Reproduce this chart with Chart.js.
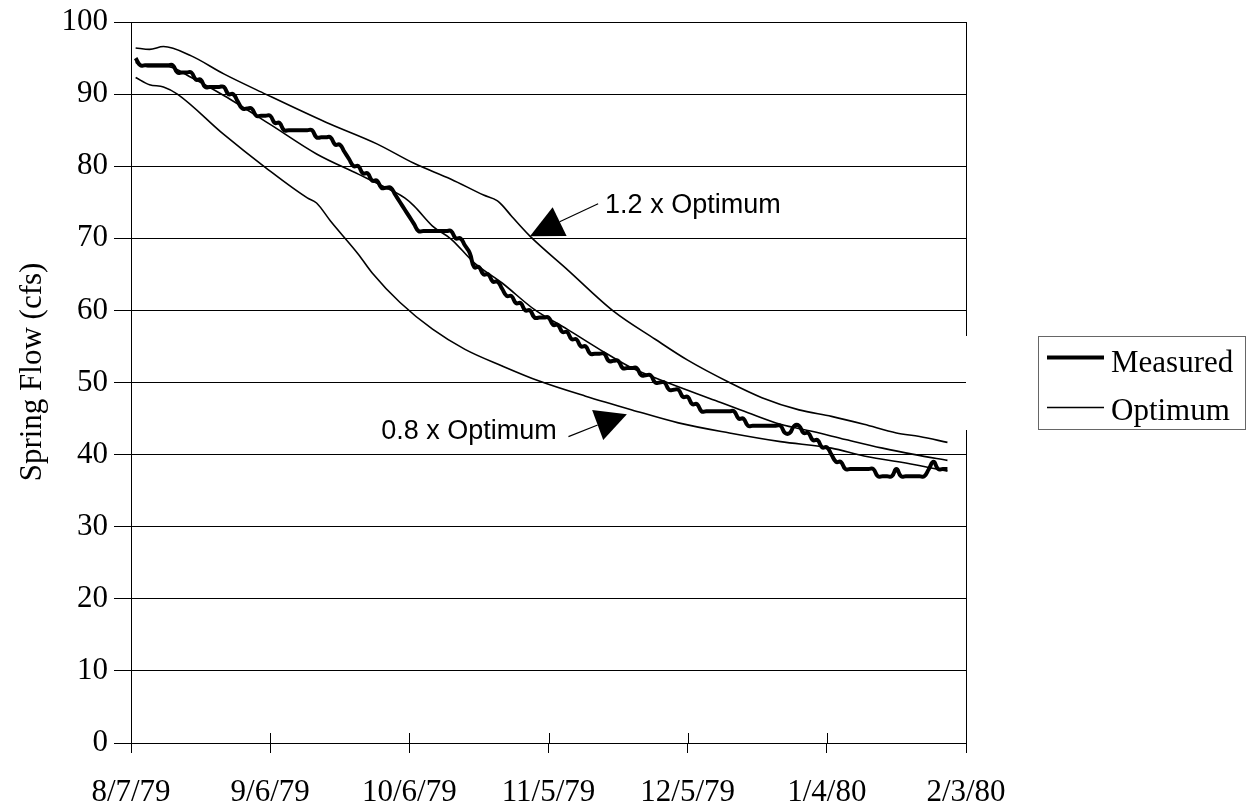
<!DOCTYPE html>
<html>
<head>
<meta charset="utf-8">
<title>Spring Flow</title>
<script src="https://cdn.jsdelivr.net/npm/chart.js@4.4.1/dist/chart.umd.min.js"></script>
<style>
  html, body { margin: 0; padding: 0; background: #fff; }
  canvas { display: block; }
</style>
</head>
<body>
<canvas id="flowChart" width="1247" height="809"></canvas>
<script>
// x axis is days since 8/7/79, ticks every 30 days
const tickLabels = ['8/7/79', '9/6/79', '10/6/79', '11/5/79', '12/5/79', '1/4/80', '2/3/80'];

// measured spring flow (cfs), one reading per day from 8/8/79 (day 1)
const measuredFlow = [
  95, 94, 94, 94, 94, 94, 94, 94, 94, 93,
  93, 93, 93, 92, 92, 91, 91, 91, 91, 91,
  90, 90, 89, 88, 88, 88, 87, 87, 87, 87,
  86, 86, 85, 85, 85, 85, 85, 85, 85, 84,
  84, 84, 84, 83, 83, 82, 81, 80, 80, 79,
  79, 78, 78, 77, 77, 77, 76, 75, 74, 73,
  72, 71, 71, 71, 71, 71, 71, 71, 71, 70,
  70, 69, 68, 66, 66, 65, 65, 64, 64, 63,
  62, 62, 61, 61, 60, 60, 59, 59, 59, 59,
  58, 58, 57, 57, 56, 56, 55, 55, 54, 54,
  54, 54, 53, 53, 53, 52, 52, 52, 52, 51,
  51, 51, 50, 50, 50, 49, 49, 49, 48, 48,
  47, 47, 46, 46, 46, 46, 46, 46, 46, 46,
  45, 45, 44, 44, 44, 44, 44, 44, 44, 44,
  43, 43, 44, 44, 43, 43, 42, 42, 41, 41,
  40, 39, 39, 38, 38, 38, 38, 38, 38, 38,
  37, 37, 37, 37, 38, 37, 37, 37, 37, 37,
  37, 38, 39, 38, 38, 38
];

// optimum operation curve
const optimumDays = [1, 4, 8, 13, 20, 30, 40, 49, 55, 59, 61, 65, 69, 74, 80, 87, 94, 101, 108, 116, 126, 133, 140, 147, 154, 162, 169, 176];
const optimumFlow = [94.4, 93.8, 93.8, 92.3, 89.8, 85.8, 81.7, 78.9, 77.0, 75.6, 74.5, 71.7, 69.9, 66.6, 63.8, 60.1, 57.4, 54.6, 52.0, 49.9, 47.5, 45.8, 44.2, 43.2, 42.1, 40.9, 40.0, 39.2];

// 1.2 x optimum
const highDays = [1, 4, 7, 13, 20, 29, 42, 53, 61, 69, 76, 79, 80, 82, 86, 94, 104, 113, 120, 129, 136, 144, 151, 158, 165, 170, 176];
const highFlow = [96.4, 96.2, 96.6, 95.3, 92.8, 90.0, 86.1, 83.1, 80.4, 78.2, 76.0, 75.2, 74.6, 73.1, 70.3, 65.7, 59.9, 56.0, 53.1, 50.0, 47.9, 46.2, 45.3, 44.2, 43.0, 42.5, 41.7];

// 0.8 x optimum
const lowDays = [1, 4, 7, 10, 20, 29, 38, 40, 43, 49, 52, 58, 65, 72, 80, 88, 98, 108, 118, 129, 140, 151, 158, 169, 176];
const lowFlow = [92.3, 91.3, 91.0, 90.0, 84.4, 79.8, 75.6, 74.9, 72.4, 67.8, 65.2, 61.1, 57.4, 54.6, 52.3, 50.2, 48.1, 46.2, 44.4, 43.0, 41.8, 40.9, 39.8, 38.6, 37.7];

const serif = "'Liberation Serif', 'Times New Roman', serif";
const sans = "'Liberation Sans', Arial, sans-serif";

function toPoints(days, flows) {
  return flows.map((v, i) => ({ x: days[i], y: v }));
}
const measuredPoints = measuredFlow.map((v, i) => ({ x: i + 1, y: v }));

// arrow callouts, in (day, cfs)
const callouts = [
  { text: '1.2 x Optimum', tip: [86.0, 70.3], base: [92.4, 72.3], tail: [100.7, 74.8], at: [102.2, 73.5], align: 'left' },
  { text: '0.8 x Optimum', tip: [106.9, 45.6], base: [100.6, 44.1], tail: [94.3, 42.5], at: [91.8, 42.1], align: 'right' }
];

const extras = {
  id: 'extras',
  afterDraw(chart) {
    const { ctx, chartArea: a, scales: { x, y } } = chart;
    ctx.save();

    // inner half of the cross ticks on the date axis, and the right frame edge
    ctx.strokeStyle = '#000';
    ctx.lineWidth = 1;
    ctx.beginPath();
    x.ticks.forEach(t => {
      const px = Math.round(x.getPixelForValue(t.value)) + 0.5;
      ctx.moveTo(px, a.bottom - 10);
      ctx.lineTo(px, a.bottom);
    });
    const rx = Math.round(a.right) + 0.5;
    ctx.moveTo(rx, a.top);
    ctx.lineTo(rx, a.bottom);
    ctx.stroke();

    // axis title
    ctx.save();
    ctx.translate(33, 372);
    ctx.rotate(-Math.PI / 2);
    ctx.fillStyle = '#000';
    ctx.font = '31px ' + serif;
    ctx.textAlign = 'center';
    ctx.textBaseline = 'middle';
    ctx.fillText('Spring Flow (cfs)', 0, 0);
    ctx.restore();

    // callout arrows
    callouts.forEach(c => {
      const tx = x.getPixelForValue(c.tip[0]), ty = y.getPixelForValue(c.tip[1]);
      const bx = x.getPixelForValue(c.base[0]), by = y.getPixelForValue(c.base[1]);
      const sx = x.getPixelForValue(c.tail[0]), sy = y.getPixelForValue(c.tail[1]);
      const dx = bx - tx, dy = by - ty, len = Math.hypot(dx, dy);
      const nx = -dy / len * 16, ny = dx / len * 16;
      ctx.beginPath();
      ctx.moveTo(sx, sy);
      ctx.lineTo(bx, by);
      ctx.lineWidth = 1.2;
      ctx.stroke();
      ctx.beginPath();
      ctx.moveTo(tx, ty);
      ctx.lineTo(bx + nx, by + ny);
      ctx.lineTo(bx - nx, by - ny);
      ctx.closePath();
      ctx.fillStyle = '#000';
      ctx.fill();

      ctx.font = '27px ' + sans;
      ctx.textAlign = c.align;
      ctx.textBaseline = 'alphabetic';
      ctx.fillText(c.text, x.getPixelForValue(c.at[0]), y.getPixelForValue(c.at[1]));
    });

    // legend box
    const lx = a.right + 72, ly = 336, lw = 207, lh = 93;
    ctx.fillStyle = '#fff';
    ctx.fillRect(a.right, ly, lx + lw - a.right + 1, lh + 1);
    ctx.strokeStyle = '#666';
    ctx.lineWidth = 1;
    ctx.strokeRect(lx + 0.5, ly + 0.5, lw, lh);

    ctx.strokeStyle = '#000';
    ctx.lineWidth = 4;
    ctx.beginPath();
    ctx.moveTo(lx + 9, ly + 21.5);
    ctx.lineTo(lx + 66, ly + 21.5);
    ctx.stroke();
    ctx.lineWidth = 1.6;
    ctx.beginPath();
    ctx.moveTo(lx + 9, ly + 71.5);
    ctx.lineTo(lx + 66, ly + 71.5);
    ctx.stroke();

    ctx.fillStyle = '#000';
    ctx.font = '31px ' + serif;
    ctx.textAlign = 'left';
    ctx.textBaseline = 'alphabetic';
    ctx.fillText('Measured', lx + 73, ly + 36);
    ctx.fillText('Optimum', lx + 73, ly + 84);

    ctx.restore();
  }
};

const thin = {
  borderColor: '#000',
  borderWidth: 1.6,
  pointRadius: 0,
  fill: false,
  cubicInterpolationMode: 'monotone'
};

new Chart(document.getElementById('flowChart'), {
  type: 'line',
  data: {
    datasets: [
      { label: 'Measured', data: measuredPoints, borderColor: '#000', borderWidth: 4, pointRadius: 0, fill: false, tension: 0.5 },
      Object.assign({ label: 'Optimum', data: toPoints(optimumDays, optimumFlow) }, thin),
      Object.assign({ label: '1.2 x Optimum', data: toPoints(highDays, highFlow) }, thin),
      Object.assign({ label: '0.8 x Optimum', data: toPoints(lowDays, lowFlow) }, thin)
    ]
  },
  options: {
    responsive: false,
    animation: false,
    devicePixelRatio: 1,
    layout: { padding: { top: 22, right: 281, left: 0, bottom: 0 } },
    plugins: {
      legend: { display: false },
      tooltip: { enabled: false }
    },
    scales: {
      x: {
        type: 'linear',
        min: 0,
        max: 180,
        ticks: {
          stepSize: 30,
          autoSkip: false,
          maxRotation: 0,
          padding: 21,
          color: '#000',
          font: { family: serif, size: 31 },
          callback: v => tickLabels[Math.round(v / 30)]
        },
        grid: { drawOnChartArea: false, color: '#000', tickLength: 10 },
        border: { color: '#000', width: 1 },
        afterFit: s => { s.height = 66; }
      },
      y: {
        min: 0,
        max: 100,
        ticks: {
          stepSize: 10,
          padding: 6,
          color: '#000',
          font: { family: serif, size: 31, lineHeight: 1 }
        },
        grid: { color: '#000', tickLength: 17 },
        border: { color: '#000', width: 1 },
        afterFit: s => { s.width = 131; }
      }
    }
  },
  plugins: [extras]
});
</script>
</body>
</html>
